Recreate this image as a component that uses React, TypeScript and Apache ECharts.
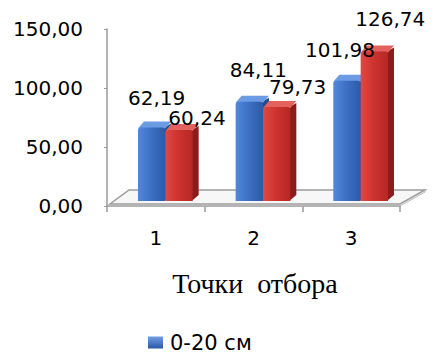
import React, { useEffect, useRef } from "react";
import * as echarts from "echarts";

// Sampling points and measured values for the two soil layers
const categories = ["1", "2", "3"];
const layerTop = [62.19, 84.11, 101.98]; // 0-20 см
const layerDeep = [60.24, 79.73, 126.74]; // 20-40 см
const seriesNames = ["0-20 см", "20-40 см"];
const yTicks = { min: 0, max: 150, interval: 50 };

// Layout of the pseudo-3D drawing (pixels)
const DEPTH_X = 6;
const DEPTH_Y = 6;
const BASE_SHIFT_X = 0.097; // share of the band
const BASE_SHIFT_Y = 5;
const BAR_SHARE = 0.28;
const LABEL_NUDGE = [
  [[5, -30], [9, -32], [-7, -31]],
  [[18, -12], [21, -20], [16, -32]],
];

const FONT = "DejaVu Sans";
const fmt = (v: number) => v.toFixed(2).replace(".", ",");

const palettes = [
  { l: "#5288da", m: "#3d71c4", r: "#2c5aa8", side: "#244b8f", top: "#6b9be3" },
  { l: "#de4a45", m: "#cf332f", r: "#b52824", side: "#8a1d1b", top: "#e4625d" },
];

// Front-face extent of a bar of series idx in a category
function barBox(idx: number, api: any, cat: number, val: number) {
  const base = api.coord([cat, 0]);
  const top = api.coord([cat, val]);
  const band = api.size([1, 0])[0];
  const w = band * BAR_SHARE;
  const pairCenter = base[0] + band * BASE_SHIFT_X;
  const x0 = idx === 0 ? pairCenter - w : pairCenter;
  return { x0, x1: x0 + w, yb: base[1] - BASE_SHIFT_Y, yt: top[1] - BASE_SHIFT_Y };
}

function barRenderer(idx: number) {
  const pal = palettes[idx];
  return (params: any, api: any) => {
    const { x0, x1, yb, yt } = barBox(idx, api, api.value(0), api.value(1));
    return {
      type: "group",
      children: [
        {
          type: "polygon",
          shape: {
            points: [
              [x1 - 1, yb],
              [x1 + DEPTH_X, yb - DEPTH_Y],
              [x1 + DEPTH_X, yt - DEPTH_Y + 2],
              [x1 - 1, yt],
            ],
          },
          style: { fill: pal.side },
        },
        {
          type: "polygon",
          shape: {
            points: [
              [x0, yt + 1],
              [x0 + DEPTH_X, yt - DEPTH_Y],
              [x1 + DEPTH_X, yt - DEPTH_Y],
              [x1, yt + 1],
            ],
          },
          style: { fill: pal.top },
        },
        {
          type: "rect",
          shape: { x: x0, y: yt, width: x1 - x0, height: yb - yt, r: [3, 3, 0, 0] },
          style: {
            fill: new echarts.graphic.LinearGradient(0, 0, 1, 0, [
              { offset: 0, color: pal.l },
              { offset: 0.45, color: pal.m },
              { offset: 1, color: pal.r },
            ]),
          },
        },
      ],
    };
  };
}

function labelRenderer(idx: number) {
  return (params: any, api: any) => {
    const val = api.value(1);
    const { x0, x1, yt } = barBox(idx, api, api.value(0), val);
    const nudge = LABEL_NUDGE[idx][params.dataIndex];
    return {
      type: "text",
      style: {
        text: fmt(val),
        x: (x0 + x1) / 2 + nudge[0],
        y: yt + nudge[1],
        align: "center",
        verticalAlign: "middle",
        textAlign: "center",
        textVerticalAlign: "middle",
        fontSize: 20,
        fontFamily: FONT,
        fill: "#000",
      },
    };
  };
}

function floorRenderer(params: any, api: any) {
  const band = api.size([1, 0])[0];
  const first = api.coord([0, 0]);
  const last = api.coord([categories.length - 1, 0]);
  const left = first[0] - band / 2;
  const right = last[0] + band / 2;
  const y0 = first[1];
  return {
    type: "group",
    children: [
      {
        type: "polygon",
        shape: {
          points: [
            [left + 3, y0 - 2],
            [right, y0 - 2],
            [right + 25, y0 - 16],
            [left + 22, y0 - 16],
          ],
        },
        style: { fill: "#f7f7f7", stroke: "#9c9c9c", lineWidth: 1.5 },
      },
      {
        type: "polyline",
        shape: {
          points: [
            [left + 3, y0 - 2],
            [left + 3, y0],
            [right, y0],
            [right + 25, y0 - 14],
            [right + 25, y0 - 16],
          ],
        },
        style: { fill: "none", stroke: "#b5b5b5", lineWidth: 1 },
      },
    ],
  };
}

export default function App() {
  const ref = useRef<HTMLDivElement>(null);

  useEffect(() => {
    if (!ref.current) return;
    const chart = echarts.init(ref.current, null, { renderer: "svg" });
    const topData = layerTop.map((v, i) => [i, v]);
    const deepData = layerDeep.map((v, i) => [i, v]);
    chart.setOption({
      animation: false,
      backgroundColor: "#ffffff",
      grid: { left: 107, top: 29, width: 293, height: 177 },
      legend: {
        data: [seriesNames[0]],
        left: 143,
        top: 327,
        itemWidth: 15,
        itemHeight: 12,
        itemGap: 4,
        icon: "rect",
        textStyle: { fontFamily: FONT, fontSize: 21, color: "#000", padding: [0, 0, 0, 2] },
      },
      xAxis: {
        type: "category",
        data: categories,
        axisLine: { show: true, lineStyle: { color: "#9a9a9a", width: 1.5 } },
        axisTick: { show: true, length: 6, alignWithLabel: false, lineStyle: { color: "#9a9a9a", width: 1.5 } },
        axisLabel: { margin: 22, fontFamily: FONT, fontSize: 20, color: "#000" },
      },
      yAxis: {
        type: "value",
        min: yTicks.min,
        max: yTicks.max,
        interval: yTicks.interval,
        axisLine: { show: true, lineStyle: { color: "#9a9a9a", width: 1.5 } },
        axisTick: { show: true, length: 3, lineStyle: { color: "#9a9a9a" } },
        splitLine: { show: false },
        axisLabel: {
          margin: 24,
          fontFamily: FONT,
          fontSize: 20,
          color: "#000",
          formatter: (v: number) => fmt(v),
        },
      },
      graphic: [
        {
          type: "text",
          x: 255,
          y: 283,
          style: {
            text: "Точки  отбора",
            fontFamily: "Liberation Serif",
            fontSize: 28,
            fill: "#000",
            textAlign: "center",
            textVerticalAlign: "middle",
          },
        },
      ],
      series: [
        {
          type: "custom",
          name: "floor",
          silent: true,
          z: 1,
          data: [[0, 0]],
          encode: { x: 0, y: 1 },
          renderItem: floorRenderer,
        },
        {
          type: "custom",
          name: seriesNames[0],
          z: 2,
          itemStyle: {
            color: new echarts.graphic.LinearGradient(0, 0, 0, 1, [
              { offset: 0, color: "#6f9ee6" },
              { offset: 1, color: "#2a57a6" },
            ]),
          },
          data: topData,
          encode: { x: 0, y: 1 },
          renderItem: barRenderer(0),
        },
        {
          type: "custom",
          name: seriesNames[1],
          z: 3,
          itemStyle: { color: "#cf332f" },
          data: deepData,
          encode: { x: 0, y: 1 },
          renderItem: barRenderer(1),
        },
        {
          type: "custom",
          name: "labels-top",
          silent: true,
          z: 5,
          data: topData,
          encode: { x: 0, y: 1 },
          renderItem: labelRenderer(0),
        },
        {
          type: "custom",
          name: "labels-deep",
          silent: true,
          z: 5,
          data: deepData,
          encode: { x: 0, y: 1 },
          renderItem: labelRenderer(1),
        },
      ],
    });
    return () => chart.dispose();
  }, []);

  return (
    <div
      ref={ref}
      style={{ position: "fixed", left: 0, top: 0, width: 432, height: 359 }}
    />
  );
}
